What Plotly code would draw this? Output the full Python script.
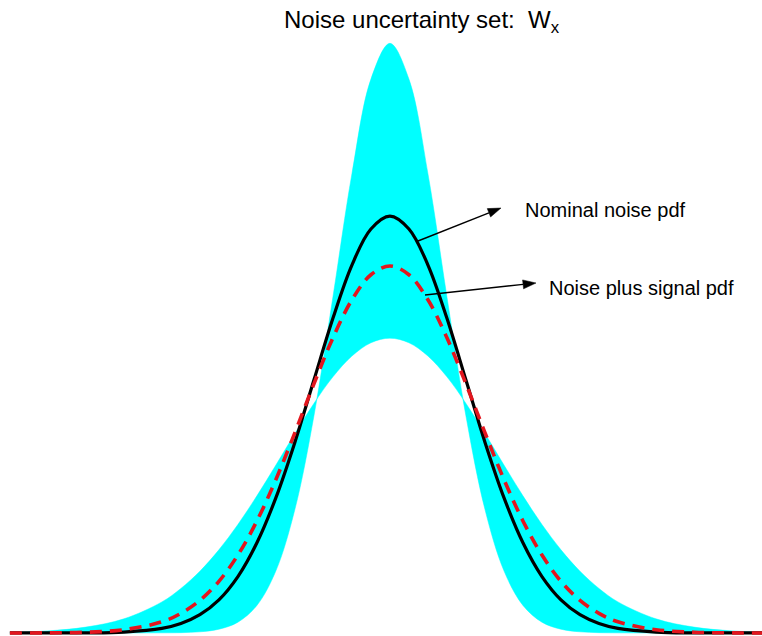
import plotly.graph_objects as go

# sample positions (half-width grid, mirrored below)
x_half = [0, 0.25, 0.5, 0.75, 1.0, 1.25, 1.5, 1.75, 2.0, 2.25, 2.5, 2.75, 3.0, 3.5, 4.0, 4.5, 5.0]
# narrow (tall) bound of the uncertainty set
narrow_half = [0.5642, 0.5300, 0.4394, 0.3215, 0.2076, 0.1183, 0.0595, 0.0264, 0.0103,
               0.0036, 0.0011, 0.0003, 0.0001, 0.0, 0.0, 0.0, 0.0]
# wide (flat) bound of the uncertainty set
wide_half = [0.2821, 0.2777, 0.2650, 0.2451, 0.2197, 0.1909, 0.1607, 0.1312, 0.1038,
             0.0796, 0.0591, 0.0426, 0.0297, 0.0135, 0.0056, 0.0020, 0.0006]
# nominal noise pdf
nominal_half = [0.3989, 0.3866, 0.3521, 0.3011, 0.2420, 0.1826, 0.1295, 0.0863, 0.0540,
                0.0317, 0.0175, 0.0091, 0.0044, 0.0009, 0.0001, 0.0, 0.0]
# noise plus signal pdf
signal_half = [0.3512, 0.3428, 0.3188, 0.2824, 0.2384, 0.1917, 0.1469, 0.1072, 0.0746,
               0.0494, 0.0312, 0.0188, 0.0107, 0.0031, 0.0007, 0.0001, 0.0]


def mirror(v, neg=False):
    left = [(-a if neg else a) for a in v[:0:-1]]
    return left + list(v)


xs = mirror(x_half, neg=True)
narrow = mirror(narrow_half)
wide = mirror(wide_half)
nominal = mirror(nominal_half)
signal = mirror(signal_half)

CYAN = "#00FFFF"
fig = go.Figure()
fig.add_trace(go.Scatter(x=xs, y=narrow, mode="lines", line=dict(color=CYAN, width=0.5, shape="spline"),
                         hoverinfo="skip", showlegend=False))
fig.add_trace(go.Scatter(x=xs, y=wide, mode="lines", line=dict(color=CYAN, width=0.5, shape="spline"),
                         fill="tonexty", fillcolor=CYAN, hoverinfo="skip", showlegend=False))
fig.add_trace(go.Scatter(x=xs, y=nominal, mode="lines", line=dict(color="black", width=3.2, shape="spline"),
                         name="Nominal noise pdf", showlegend=False))
fig.add_trace(go.Scatter(x=xs, y=signal, mode="lines",
                         line=dict(color="#E3161E", width=3.6, shape="spline", dash="12px,8px"),
                         name="Noise plus signal pdf", showlegend=False))

W, H = 762, 636
FONT = "Liberation Sans, Arial, Helvetica, sans-serif"


def px(xp):
    return xp / W


def py(yp):
    return 1 - yp / H


annotations = [
    dict(text="Noise uncertainty set:  W<sub>x</sub>", x=px(282), y=py(21), xref="paper", yref="paper",
         xanchor="left", yanchor="middle", showarrow=False, font=dict(size=24, color="black", family=FONT)),
    dict(text="Nominal noise pdf", x=px(523), y=py(210), xref="paper", yref="paper",
         xanchor="left", yanchor="middle", showarrow=False, font=dict(size=20, color="black", family=FONT)),
    dict(text="Noise plus signal pdf", x=px(547), y=py(288), xref="paper", yref="paper",
         xanchor="left", yanchor="middle", showarrow=False, font=dict(size=20, color="black", family=FONT)),
]


def arrow_shapes(tail, head, head_len=13.0, half_w=4.5):
    (tx, ty), (hx, hy) = tail, head
    dx, dy = hx - tx, hy - ty
    L = (dx * dx + dy * dy) ** 0.5
    ux, uy = dx / L, dy / L
    nx, ny = -uy, ux
    bx, by = hx - head_len * ux, hy - head_len * uy
    c1 = (bx + half_w * nx, by + half_w * ny)
    c2 = (bx - half_w * nx, by - half_w * ny)
    line = dict(type="line", xref="paper", yref="paper",
                x0=px(tx), y0=py(ty), x1=px(bx), y1=py(by),
                line=dict(color="black", width=1.4))
    tri = dict(type="path", xref="paper", yref="paper",
               path=f"M {px(hx)} {py(hy)} L {px(c1[0])} {py(c1[1])} L {px(c2[0])} {py(c2[1])} Z",
               fillcolor="black", line=dict(color="black", width=0.5))
    return [line, tri]


shapes = arrow_shapes((418, 241), (501, 208)) + arrow_shapes((425, 295), (536, 283))

fig.update_layout(
    width=W, height=H,
    margin=dict(l=0, r=0, t=0, b=0),
    paper_bgcolor="white", plot_bgcolor="white",
    xaxis=dict(range=[-5.13, 4.895], visible=False),
    yaxis=dict(range=[-0.0029, 0.6057], visible=False),
    annotations=annotations,
    shapes=shapes,
    showlegend=False,
)

fig.write_html("out.html")
